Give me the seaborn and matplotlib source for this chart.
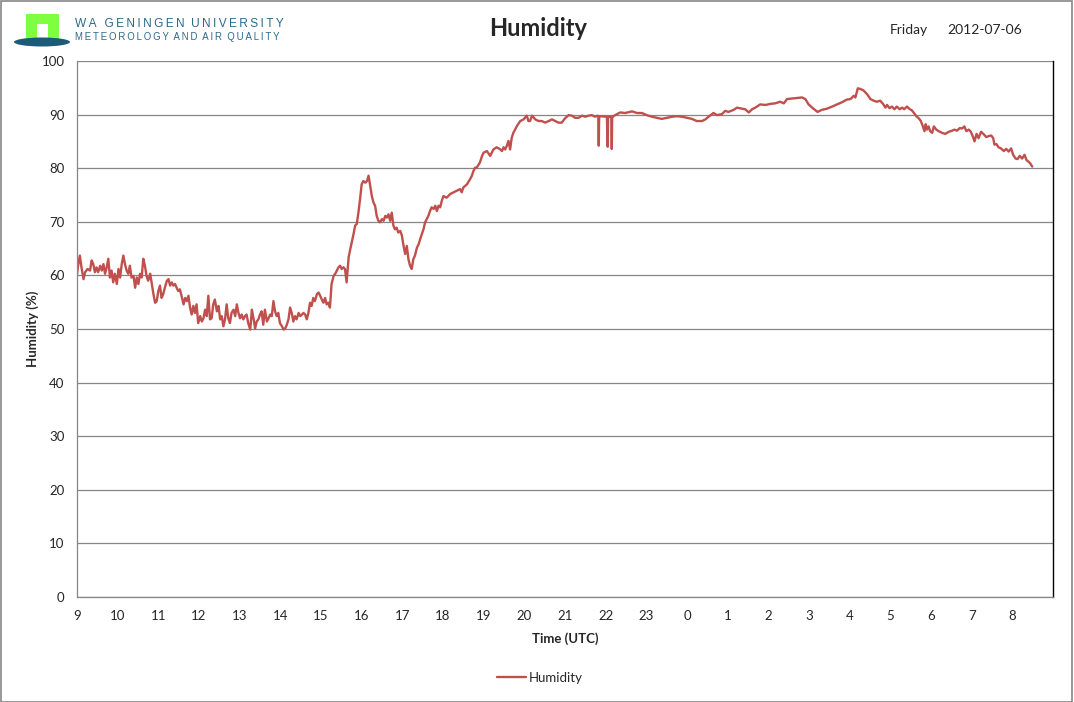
import numpy as np
import pandas as pd
import matplotlib
matplotlib.use('Agg')
import matplotlib.pyplot as plt
import seaborn as sns
from matplotlib.patches import Rectangle, Ellipse

# hours after 09:00 UTC on 2012-07-06
hour_labels = [9, 10, 11, 12, 13, 14, 15, 16, 17, 18, 19, 20, 21, 22, 23,
               0, 1, 2, 3, 4, 5, 6, 7, 8]

# ----------09:00 - 13:00----------
hours_morning = [0.00, 0.03, 0.07, 0.11, 0.16, 0.20, 0.26, 0.32, 0.36, 0.40, 0.44, 0.48,
                 0.52, 0.57, 0.61, 0.65, 0.69, 0.73, 0.77, 0.81, 0.85, 0.89, 0.93, 0.98,
                 1.02, 1.06, 1.10, 1.14, 1.18, 1.22, 1.26, 1.30, 1.34, 1.39, 1.43, 1.47,
                 1.51, 1.55, 1.59, 1.63, 1.67, 1.71, 1.75, 1.80, 1.84, 1.88, 1.92, 1.96,
                 2.00, 2.04, 2.08, 2.12, 2.16, 2.21, 2.25, 2.29, 2.33, 2.37, 2.41, 2.45,
                 2.49, 2.53, 2.57, 2.62, 2.66, 2.70, 2.74, 2.78, 2.82, 2.86, 2.90, 2.94,
                 2.98, 3.03, 3.07, 3.11, 3.15, 3.19, 3.23, 3.27, 3.31, 3.35, 3.39, 3.44,
                 3.48, 3.52, 3.56, 3.60, 3.64, 3.68, 3.72, 3.76, 3.80, 3.85, 3.89, 3.93,
                 3.97, 4.01, 4.05, 4.09, 4.13]
rh_morning = [60.2, 62.0, 63.7, 61.5, 59.3, 60.6, 61.2, 60.9, 62.8, 62.1, 60.6, 61.5,
              60.6, 61.8, 60.9, 62.1, 60.3, 61.5, 63.1, 59.6, 60.9, 58.7, 60.3, 58.4,
              61.2, 59.6, 62.1, 63.7, 62.1, 60.9, 60.3, 61.8, 59.6, 59.9, 57.7, 59.6,
              58.4, 60.3, 59.6, 63.1, 61.8, 59.9, 59.0, 60.3, 58.4, 56.5, 54.9, 55.2,
              57.1, 58.1, 55.8, 56.5, 57.7, 59.0, 59.3, 58.1, 58.7, 58.1, 58.4, 57.7,
              57.1, 57.4, 56.2, 54.6, 55.8, 55.2, 56.2, 54.0, 52.7, 54.3, 53.0, 54.6,
              51.1, 52.4, 51.4, 52.0, 53.6, 52.4, 56.2, 51.8, 52.0, 54.6, 55.5, 53.3,
              54.3, 51.8, 52.4, 50.5, 51.8, 54.6, 52.0, 51.1, 53.0, 53.6, 52.4, 54.6,
              53.0, 52.0, 52.7, 51.8, 52.4]

# ----------13:00 - 16:00----------
hours_afternoon = [4.17, 4.21, 4.26, 4.30, 4.34, 4.38, 4.42, 4.46, 4.50, 4.54, 4.58, 4.62,
                   4.67, 4.71, 4.75, 4.79, 4.83, 4.87, 4.91, 4.95, 4.99, 5.04, 5.08, 5.12,
                   5.16, 5.20, 5.24, 5.28, 5.32, 5.36, 5.40, 5.45, 5.49, 5.53, 5.57, 5.61,
                   5.65, 5.69, 5.73, 5.77, 5.81, 5.85, 5.90, 5.94, 5.98, 6.02, 6.06, 6.10,
                   6.14, 6.18, 6.22, 6.26, 6.31, 6.35, 6.39, 6.43, 6.47, 6.51, 6.55, 6.59,
                   6.63, 6.68]
rh_afternoon = [52.7, 51.1, 49.9, 53.6, 52.0, 50.1, 51.4, 51.8, 52.7, 53.3, 50.8, 53.6,
                51.4, 52.0, 52.7, 52.4, 55.2, 53.3, 52.4, 53.0, 51.1, 50.5, 49.9, 50.1,
                50.8, 51.8, 54.0, 53.0, 51.4, 52.4, 51.8, 53.0, 52.4, 52.7, 53.0, 52.7,
                51.8, 53.0, 54.9, 54.3, 55.8, 55.2, 56.5, 56.8, 56.2, 55.5, 54.9, 55.8,
                54.6, 54.9, 54.0, 58.4, 59.9, 60.3, 60.9, 61.5, 61.8, 61.2, 61.5, 61.2,
                58.7, 63.4]

# ----------16:00 - 22:00----------
hours_evening = [6.72, 6.80, 6.84, 6.88, 6.92, 6.96, 7.00, 7.04, 7.09, 7.13, 7.17, 7.21,
                 7.25, 7.29, 7.33, 7.37, 7.41, 7.45, 7.50, 7.54, 7.58, 7.62, 7.66, 7.70,
                 7.74, 7.78, 7.82, 7.86, 7.90, 7.95, 7.99, 8.03, 8.07, 8.11, 8.15, 8.19,
                 8.23, 8.27, 8.31, 8.36, 8.40, 8.44, 8.48, 8.52, 8.56, 8.60, 8.64, 8.68,
                 8.72, 8.77, 8.81, 8.85, 8.89, 8.93, 8.97, 9.01, 9.09, 9.18, 9.26, 9.34,
                 9.42, 9.46, 9.50, 9.59, 9.67, 9.71, 9.75, 9.79, 9.83, 9.91, 9.96, 10.00,
                 10.08, 10.16, 10.20, 10.24, 10.32, 10.41, 10.45, 10.49, 10.53, 10.57, 10.61, 10.65,
                 10.69, 10.73, 10.82, 10.90, 10.98, 11.06, 11.10, 11.14, 11.19, 11.27, 11.35, 11.43,
                 11.51, 11.60, 11.68, 11.76, 11.84, 11.92, 12.00, 12.09, 12.17, 12.25, 12.33, 12.42,
                 12.50, 12.58, 12.66, 12.74, 12.80]
rh_evening = [64.9, 67.7, 69.3, 69.6, 71.7, 74.2, 77.0, 77.6, 77.3, 77.6, 78.6, 76.7,
              74.8, 73.6, 73.0, 71.1, 70.2, 69.9, 70.5, 70.2, 71.1, 70.8, 71.4, 70.2,
              71.7, 69.3, 68.6, 68.9, 68.0, 68.3, 67.4, 65.5, 64.0, 65.5, 63.0, 61.8,
              61.2, 63.0, 63.7, 65.2, 65.8, 66.8, 67.7, 68.6, 69.9, 70.5, 71.1, 72.0,
              72.7, 72.4, 73.0, 72.0, 73.0, 72.7, 73.9, 74.8, 74.5, 75.2, 75.5, 75.8,
              76.1, 75.5, 76.4, 77.0, 78.0, 78.6, 79.5, 80.1, 80.1, 81.1, 82.3, 82.9,
              83.2, 82.3, 82.9, 83.5, 83.9, 83.5, 83.2, 83.9, 83.5, 84.2, 85.1, 83.5,
              85.7, 86.6, 87.9, 88.8, 89.1, 89.8, 88.8, 88.8, 89.8, 89.1, 88.8, 88.8,
              88.5, 88.8, 89.1, 88.8, 88.5, 88.5, 89.3, 89.9, 89.8, 89.4, 89.4, 89.8,
              89.6, 89.8, 89.9, 89.6, 89.8]

# ----------22:00 - 04:45----------
hours_night = [12.82, 12.83, 12.84, 12.87, 13.03, 13.05, 13.06, 13.14, 13.15, 13.16,
               13.19, 13.28, 13.36, 13.48, 13.65, 13.77, 13.89, 14.01, 14.14, 14.26,
               14.38, 14.51, 14.63, 14.75, 14.88, 15.00, 15.12, 15.24, 15.37, 15.45,
               15.53, 15.65, 15.74, 15.86, 15.94, 16.02, 16.15, 16.23, 16.35, 16.43,
               16.52, 16.60, 16.68, 16.80, 16.93, 17.05, 17.17, 17.29, 17.38, 17.46,
               17.58, 17.70, 17.83, 17.91, 17.99, 18.11, 18.21, 18.32, 18.44, 18.57,
               18.69, 18.81, 18.93, 19.02, 19.10, 19.14, 19.20, 19.26, 19.34, 19.43,
               19.51, 19.59, 19.67]
rh_night = [89.7, 84.2, 89.7, 89.7, 89.6, 84.0, 89.6, 89.6, 83.6, 89.6,
            89.7, 90.1, 90.4, 90.3, 90.6, 90.3, 90.3, 89.9, 89.6, 89.4,
            89.2, 89.4, 89.6, 89.7, 89.6, 89.4, 89.2, 88.8, 88.8, 89.1,
            89.6, 90.3, 89.9, 90.1, 90.7, 90.5, 90.9, 91.3, 91.1, 91.0,
            90.4, 91.0, 91.3, 91.9, 91.8, 92.0, 92.1, 92.4, 92.1, 92.9,
            93.0, 93.1, 93.2, 92.9, 91.9, 91.1, 90.5, 90.9, 91.1, 91.5,
            91.9, 92.3, 92.8, 92.9, 93.5, 93.2, 94.9, 94.8, 94.5, 93.8,
            92.9, 92.6, 92.4]

# ----------04:45 - 08:30----------
hours_dawn = [19.75, 19.82, 19.88, 19.92, 19.98, 20.04, 20.10, 20.16, 20.23, 20.29,
              20.34, 20.41, 20.48, 20.53, 20.57, 20.64, 20.70, 20.75, 20.80, 20.84,
              20.87, 20.90, 20.94, 20.98, 21.03, 21.07, 21.13, 21.19, 21.27, 21.35,
              21.44, 21.52, 21.57, 21.64, 21.71, 21.76, 21.82, 21.87, 21.93, 21.98,
              22.03, 22.07, 22.12, 22.17, 22.23, 22.30, 22.36, 22.42, 22.48, 22.53,
              22.56, 22.61, 22.66, 22.72, 22.79, 22.85, 22.91, 22.97, 23.02, 23.08,
              23.13, 23.18, 23.24, 23.30, 23.35, 23.40, 23.44, 23.49]
rh_dawn = [92.6, 92.0, 91.3, 91.8, 91.2, 91.5, 91.0, 91.5, 91.0, 91.3,
           91.0, 91.5, 91.0, 90.8, 90.4, 89.7, 89.3, 88.8, 87.8, 86.9,
           88.2, 87.2, 87.8, 86.9, 86.6, 87.8, 87.2, 86.9, 86.6, 86.4,
           86.8, 87.0, 87.2, 87.0, 87.5, 87.4, 87.8, 86.9, 87.2, 86.8,
           85.9, 85.0, 86.4, 85.6, 86.8, 86.3, 85.8, 86.0, 86.1, 85.6,
           84.4, 84.5, 83.9, 83.7, 83.2, 83.6, 83.1, 83.7, 82.5, 81.8,
           81.7, 82.3, 81.8, 82.5, 81.5, 81.2, 80.9, 80.3]

df = pd.DataFrame({
    'hours': hours_morning + hours_afternoon + hours_evening + hours_night + hours_dawn,
    'Humidity': rh_morning + rh_afternoon + rh_evening + rh_night + rh_dawn,
})

sns.set_style('white')
plt.rcParams['font.family'] = ['Lato', 'DejaVu Sans']

line_col = '#C0504D'
grid_col = '#868686'
logo_col = '#2B6A8A'

fig = plt.figure(figsize=(10.74, 7.02), dpi=100)
ax = fig.add_axes([77/1074, 105/702, 976/1074, 536/702])

sns.lineplot(data=df, x='hours', y='Humidity', color=line_col, linewidth=1.7,
             ax=ax, label='Humidity', legend=False)

ax.set_xlim(0, 24)
ax.set_ylim(0, 100)
ax.set_xticks(range(0, 25))
ax.set_xticklabels([str(h) for h in hour_labels] + [''])
ax.set_yticks(range(0, 101, 10))
ax.yaxis.grid(True, color=grid_col, linewidth=0.9)
ax.xaxis.grid(False)
ax.tick_params(axis='both', direction='out', length=5, width=0.8, color=grid_col,
               labelsize=9.5, pad=4)
ax.set_xlabel('Time (UTC)', fontsize=9.5, fontweight='bold', labelpad=8)
ax.set_ylabel('Humidity (%)', fontsize=9.5, fontweight='bold', labelpad=2)

for side in ['left', 'bottom']:
    ax.spines[side].set_color(grid_col)
    ax.spines[side].set_linewidth(0.9)
ax.spines['top'].set_visible(False)
ax.spines['right'].set_color('black')
ax.spines['right'].set_linewidth(1.0)

handles, labels = ax.get_legend_handles_labels()
fig.legend(handles, labels, loc='center', bbox_to_anchor=(540/1074, 1 - 678/702),
           frameon=False, fontsize=9.5, handlelength=2.2, handletextpad=0.2)

# header texts
fig.text(538/1074, 1 - 28/702, 'Humidity', ha='center', va='center',
         fontsize=17, fontweight='bold')
fig.text(909/1074, 1 - 30/702, 'Friday', ha='center', va='center', fontsize=10)
fig.text(985/1074, 1 - 30/702, '2012-07-06', ha='center', va='center', fontsize=10)

thin = '\u2009'
uni_name = '  '.join(thin.join(w) for w in ['WA GENINGEN', 'UNIVERSITY'])
dept_name = '  '.join(thin.join(w) for w in ['METEOROLOGY', 'AND', 'AIR', 'QUALITY'])
fig.text(75/1074, 1 - 24/702, uni_name, ha='left', va='center',
         fontsize=8.6, color=logo_col, family=['Liberation Sans', 'DejaVu Sans'])
fig.text(75/1074, 1 - 37/702, dept_name, ha='left', va='center',
         fontsize=6.9, color=logo_col, family=['Liberation Sans', 'DejaVu Sans'])

# logo
lax = fig.add_axes([10/1074, 1 - 52/702, 62/1074, 44/702])
lax.set_xlim(10, 72)
lax.set_ylim(52, 8)
lax.axis('off')
lax.add_patch(Rectangle((26, 14), 33, 26, color='#80FF40', lw=0))
lax.add_patch(Rectangle((37, 24), 11, 17, color='white', lw=0))
lax.add_patch(Ellipse((42, 42), 56, 9, color='#1C5A78', lw=0))

# outer border
fig.patches.append(Rectangle((0.0005, 0.0007), 0.998, 0.9985, transform=fig.transFigure,
                             fill=False, edgecolor=grid_col, linewidth=1.2))

fig.savefig('out.png', dpi=100)
